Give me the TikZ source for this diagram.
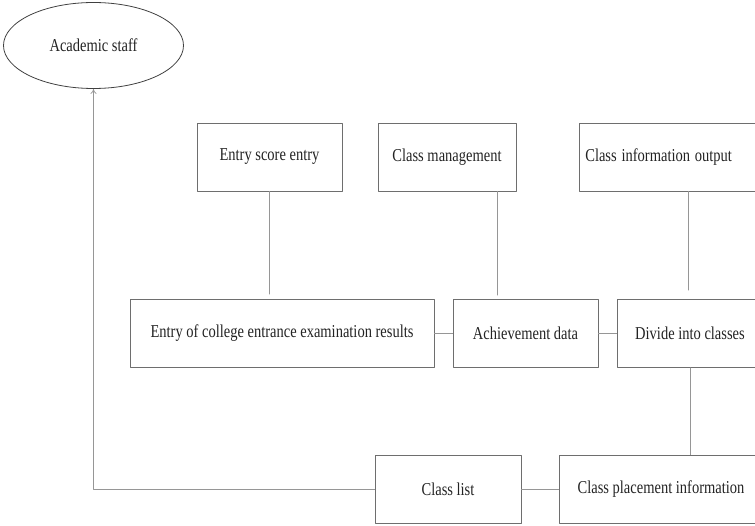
\documentclass[tikz,border=0pt]{standalone}
\usepackage{fontspec}
\setmainfont{Liberation Serif}
\usepackage{graphicx}
\usepackage{tikz}
\usetikzlibrary{arrows.meta,calc,shapes.geometric}
\definecolor{boxline}{RGB}{110,110,110}
\definecolor{linkline}{RGB}{150,150,150}
\definecolor{txt}{RGB}{35,35,35}
\newcommand{\tl}[1]{\scalebox{1}[1.25]{#1}}
\tikzset{
  blk/.style={rectangle, draw=boxline, line width=0.7pt, minimum height=68pt, inner sep=0pt, text=txt, font=\fontsize{14.5}{16}\selectfont},
  actor/.style={ellipse, draw=black!75, line width=0.8pt, minimum width=180pt, minimum height=86pt, inner sep=0pt, text=txt, font=\fontsize{14.5}{16}\selectfont},
  link/.style={draw=linkline, line width=0.7pt},
  every picture/.style={line cap=round, line join=round}
}

\begin{document}
\begin{tikzpicture}[x=1pt, y=-1pt]
  \useasboundingbox (0,0) rectangle (755,526);
  \clip (0,0) rectangle (755,526);

  \node[actor] (staff) at (93.5,45.5) {\tl{Academic staff}};

  \node[blk, minimum width=145pt] (scoreentry) at (269.5,157) {\tl{Entry score entry}};
  \node[blk, minimum width=138pt] (classmgmt) at (447,157) {\tl{Class management}};
  \node[blk, anchor=west, text width=194pt, align=left, inner xsep=6pt] (infoout) at (579,157) {\tl{Class information output}};

  \node[blk, minimum width=304pt] (results) at (282,333.5) {\tl{Entry of college entrance examination results}};
  \node[blk, minimum width=145pt] (achieve) at (525.5,333.5) {\tl{Achievement data}};
  \node[blk, minimum width=146pt] (divide) at (690,333.5) {\tl{Divide into classes}};

  \node[blk, minimum width=146pt] (classlist) at (448,489) {\tl{Class list}};
  \node[blk, minimum width=204pt] (placement) at (661,489) {\tl{Class placement information}};

  \draw[link, shorten >=5pt] (scoreentry.south) -- (scoreentry.south |- results.north);
  \draw[link, shorten >=4pt] ([xshift=50pt]classmgmt.south) -- ([xshift=50pt]classmgmt.south |- achieve.north);
  \draw[link, shorten >=9pt] ([xshift=-2pt]divide.north |- infoout.south) -- ([xshift=-2pt]divide.north);

  \draw[link] (results) -- (achieve);
  \draw[link] (achieve) -- (divide);
  \draw[link] (divide.south) -- (divide.south |- placement.north);
  \draw[link] (classlist) -- (placement);

  \draw[link, -{To[length=5pt,width=6pt]}] (classlist.west) -| (staff.south);
\end{tikzpicture}
\end{document}
